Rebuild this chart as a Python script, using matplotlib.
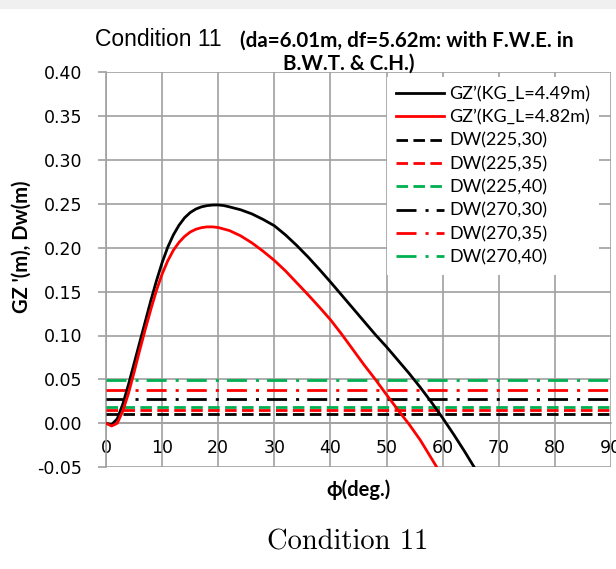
import matplotlib
matplotlib.use("Agg")
import matplotlib.pyplot as plt
from matplotlib.patches import Rectangle

# ---------------- data ----------------
phi_49 = [0, 1, 2, 3, 4, 5, 6, 7, 8, 9, 10, 11, 12, 13, 14, 15, 16, 17, 18, 19, 20,
          21, 22, 24, 26, 28, 30, 32, 34, 36, 38, 40, 42, 44, 46, 48, 50, 52, 54,
          56, 58, 60, 62, 64, 66, 67]
gz_449 = [0.000, -0.0015, 0.005, 0.022, 0.044, 0.068, 0.092, 0.116, 0.140, 0.1625,
          0.1830, 0.2005, 0.2145, 0.2255, 0.2340, 0.2400, 0.2440, 0.2465, 0.2479, 0.2486,
          0.2487, 0.2480, 0.2465, 0.2432, 0.2385, 0.2322, 0.2250, 0.2145, 0.2025,
          0.1895, 0.1755, 0.1610, 0.1460, 0.1310, 0.1160, 0.1010, 0.0870, 0.0720, 0.0570,
          0.0410, 0.0240, 0.0060, -0.0130, -0.0330, -0.0540, -0.0640]

phi_82 = [0, 1, 2, 3, 4, 5, 6, 7, 8, 9, 10, 11, 12, 13, 14, 15, 16, 17, 18, 19, 20,
          22, 24, 26, 28, 30, 32, 34, 36, 38, 40, 42, 44, 46, 48, 50, 52, 54, 56,
          58, 60, 61]
gz_482 = [0.000, -0.003, 0.000, 0.014, 0.034, 0.058, 0.083, 0.107, 0.130, 0.1515,
          0.1700, 0.1850, 0.1970, 0.2060, 0.2128, 0.2178, 0.2210, 0.2228, 0.2237, 0.2237,
          0.2230, 0.2195, 0.2135, 0.2055, 0.1960, 0.1855, 0.1735, 0.1600, 0.1465,
          0.1325, 0.1180, 0.1015, 0.0840, 0.0665, 0.0500, 0.0325, 0.0155, -0.0010,
          -0.0190, -0.0400, -0.0610, -0.0710]

dw_phi = [0, 90]
dw_labels = ["DW(225,30)", "DW(225,35)", "DW(225,40)",
             "DW(270,30)", "DW(270,35)", "DW(270,40)"]
dw_values = [0.0106, 0.0147, 0.0190, 0.0278, 0.0380, 0.0497]

x_ticks = [0, 10, 20, 30, 40, 50, 60, 70, 80, 90]
y_ticks = [-0.05, 0.00, 0.05, 0.10, 0.15, 0.20, 0.25, 0.30, 0.35, 0.40]

# ---------------- style ----------------
plt.rcParams['lines.scale_dashes'] = False
W, H = 616, 569
fig = plt.figure(figsize=(W / 100, H / 100), dpi=100)

def fx(px):
    return px / W

def fy(py):
    return 1 - py / H

ax = fig.add_axes([fx(106), fy(467.2), fx(611) - fx(106), fy(72.1) - fy(467.2)])

grid_c = '#a0a0a0'
BLACK, RED, GREEN = '#000000', '#ff0000', '#00b050'
LW = 2.0
dashed = (0, (8.3, 3.9))
dashdot = (0, (14.4, 6.5, 2.2, 5.8))

ax.plot(phi_49, gz_449, color=BLACK, lw=LW, label="GZ\u2019(KG_L=4.49m)", zorder=5)
ax.plot(phi_82, gz_482, color=RED, lw=LW, label="GZ\u2019(KG_L=4.82m)", zorder=5)
colors = [BLACK, RED, GREEN, BLACK, RED, GREEN]
styles = [dashed, dashed, dashed, dashdot, dashdot, dashdot]
for lab, v, c, s in zip(dw_labels, dw_values, colors, styles):
    ax.plot(dw_phi, [v, v], color=c, lw=LW, linestyle=s, label=lab, zorder=4)

ax.set_xlim(0, 90)
ax.set_ylim(-0.05, 0.40)
ax.set_xticks(x_ticks)
ax.set_yticks(y_ticks)
ax.set_xticklabels([str(t) for t in x_ticks])
ax.set_yticklabels([f"{t:.2f}" for t in y_ticks])
ax.grid(True, color=grid_c, lw=1.2, zorder=0)
ax.set_axisbelow(True)

for s in ['top', 'right']:
    ax.spines[s].set_visible(False)
ax.spines['left'].set_color(grid_c)
ax.spines['left'].set_linewidth(1.2)
ax.spines['bottom'].set_position(('data', 0))
ax.spines['bottom'].set_color(grid_c)
ax.spines['bottom'].set_linewidth(1.2)

ax.tick_params(axis='y', direction='out', length=6, width=1.2, color=grid_c,
               pad=11, labelsize=12.5)
ax.tick_params(axis='x', length=0, pad=11, labelsize=12.5)
for lab in ax.get_xticklabels() + ax.get_yticklabels():
    lab.set_fontfamily('DejaVu Sans')
    lab.set_color('#000000')

# legend
leg = ax.legend(loc='upper left', bbox_to_anchor=(fx(387), fy(77)),
                bbox_transform=fig.transFigure, borderaxespad=0,
                prop={'family': ['Lato', 'DejaVu Sans'], 'size': 13},
                handlelength=2.65, handletextpad=0.3, labelspacing=0.40,
                borderpad=0.5, frameon=True, fancybox=False, framealpha=1)
leg.get_frame().set_facecolor('white')
leg.get_frame().set_edgecolor('none')
leg.set_zorder(10)

# axis labels
fig.text(fx(22), fy(247), "GZ '(m), Dw(m)", rotation=90, ha='center', va='center',
         fontsize=14.5, fontweight='bold', family=['Lato', 'DejaVu Sans'])
fig.text(fx(358), fy(490), "\u03d5(deg.)", ha='center', va='center',
         fontsize=14.5, fontweight='bold', family=['Lato', 'DejaVu Sans'])

# title
fig.text(fx(95), fy(46), "Condition 11", ha='left', va='baseline',
         fontsize=16.5, family=['Liberation Sans', 'DejaVu Sans'])
fig.text(fx(240), fy(47), "(da=6.01m, df=5.62m: with F.W.E. in", ha='left', va='baseline',
         fontsize=14.8, fontweight='bold', family=['Lato', 'DejaVu Sans'])
fig.text(fx(349), fy(69.5), "B.W.T. & C.H.)", ha='center', va='baseline',
         fontsize=14.8, fontweight='bold', family=['Lato', 'DejaVu Sans'], zorder=20)

# caption
fig.text(fx(347.5), fy(549), "Condition 11", ha='center', va='baseline',
         fontsize=20.5, family=['cmr10', 'DejaVu Serif'])

# light band at top
fig.patches.append(Rectangle((0, fy(9)), 1, 1 - fy(9), transform=fig.transFigure,
                             facecolor='#f0f0f0', edgecolor='none', zorder=-1))

fig.savefig("out.png", dpi=100)
